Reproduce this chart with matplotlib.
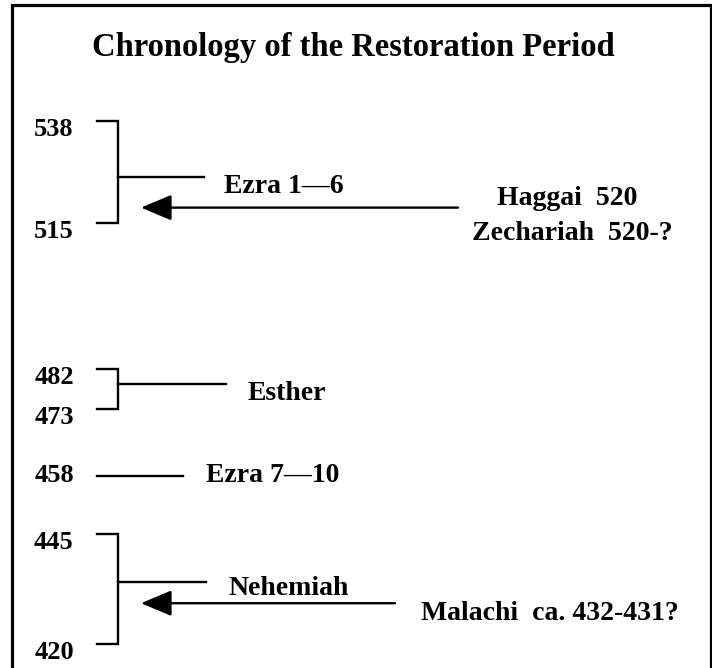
import matplotlib
matplotlib.use("Agg")
import matplotlib.pyplot as plt
from matplotlib.transforms import blended_transform_factory, offset_copy

# ---------------- data ----------------
title = "Chronology of the Restoration Period"
period_names = ["Ezra 1\u20146", "Esther", "Ezra 7\u201410", "Nehemiah"]
period_start = [538, 482, 458, 445]
period_end = [515, 473, 458, 420]
prophet_labels = [["Haggai  520", "Zechariah  520-?"], ["Malachi  ca. 432-431?"]]
prophet_years = [520, 432]

# ---------------- layout / style ----------------
W, H, DPI = 712, 668, 100
FONT = ["Liberation Serif", "DejaVu Serif"]
LW = 1.7
LAB_FS = 20
YEAR_FS = 19
fig = plt.figure(figsize=(W / DPI, H / DPI), dpi=DPI)
ax = fig.add_axes([0, 0, 1, 1])
ax.set_xlim(0, W)
ax.set_ylim(414.7, 565.2)
ax.axis("off")


def shifted(dy_px, dx_px=0):
    """Transform shifted by pixels (positive dy = downwards on the page)."""
    return offset_copy(ax.transData, fig=fig, x=dx_px, y=-dy_px, units="dots")


# border (top, left, right)
bt = blended_transform_factory(ax.transData, ax.transAxes)
top_frac = 1 - 5 / H
ax.plot([12, 12, 710.5, 710.5], [-0.05, top_frac, top_frac, -0.05], color="black",
        lw=2.3, transform=bt, solid_joinstyle="miter", clip_on=False)

ax.text(353, 1 - 56 / H, title, transform=bt, ha="center", va="baseline",
        fontsize=23.5, fontweight="bold", family=FONT)

tick_x0, tick_x1 = 97, 118
line_end = [204, 226, 183, 206]
mid_dy = [5, -5, 0, -7]          # px shift of the connector line
label_x = [284, 287, 273, 289]
label_dy = [21, 11, 6, 6]        # px from data mid to text baseline
year_x = 54

for i, name in enumerate(period_names):
    s, e = period_start[i], period_end[i]
    mid = (s + e) / 2
    if s != e:
        ax.plot([tick_x0, tick_x1, tick_x1, tick_x0], [s, s, e, e], color="black",
                lw=LW, solid_joinstyle="miter")
        ax.plot([tick_x1, line_end[i]], [mid, mid], color="black", lw=LW,
                transform=shifted(mid_dy[i]))
        for y in (s, e):
            ax.text(year_x, y, str(y), ha="center", va="baseline", fontsize=YEAR_FS,
                    fontweight="bold", family=FONT, transform=shifted(15))
    else:
        ax.plot([tick_x0, line_end[i]], [mid, mid], color="black", lw=LW,
                transform=shifted(mid_dy[i]))
        ax.text(year_x, s, str(s), ha="center", va="baseline", fontsize=YEAR_FS,
                fontweight="bold", family=FONT, transform=shifted(6))
    ax.text(label_x[i], mid, name, ha="center", va="baseline", fontsize=LAB_FS,
            fontweight="bold", family=FONT, transform=shifted(label_dy[i]))

# arrows from prophets
arrow_start = [458, 395]
arrow_dy = [7, 12]
prophet_x = [[567, 572], [550]]
prophet_dy = [[4.5, 39.5], [29]]     # px from data year to text baseline
for j, yr in enumerate(prophet_years):
    ax.annotate("", xy=(141, yr), xytext=(arrow_start[j], yr),
                xycoords=shifted(arrow_dy[j]), textcoords=shifted(arrow_dy[j]),
                arrowprops=dict(arrowstyle="-|>,head_length=1.0,head_width=0.42",
                                mutation_scale=19, lw=LW, color="black",
                                shrinkA=0, shrinkB=0))
    for k, lab in enumerate(prophet_labels[j]):
        ax.text(prophet_x[j][k], yr, lab, ha="center", va="baseline", fontsize=LAB_FS,
                fontweight="bold", family=FONT, transform=shifted(prophet_dy[j][k]))

fig.savefig("out.png", dpi=DPI, facecolor="white")
